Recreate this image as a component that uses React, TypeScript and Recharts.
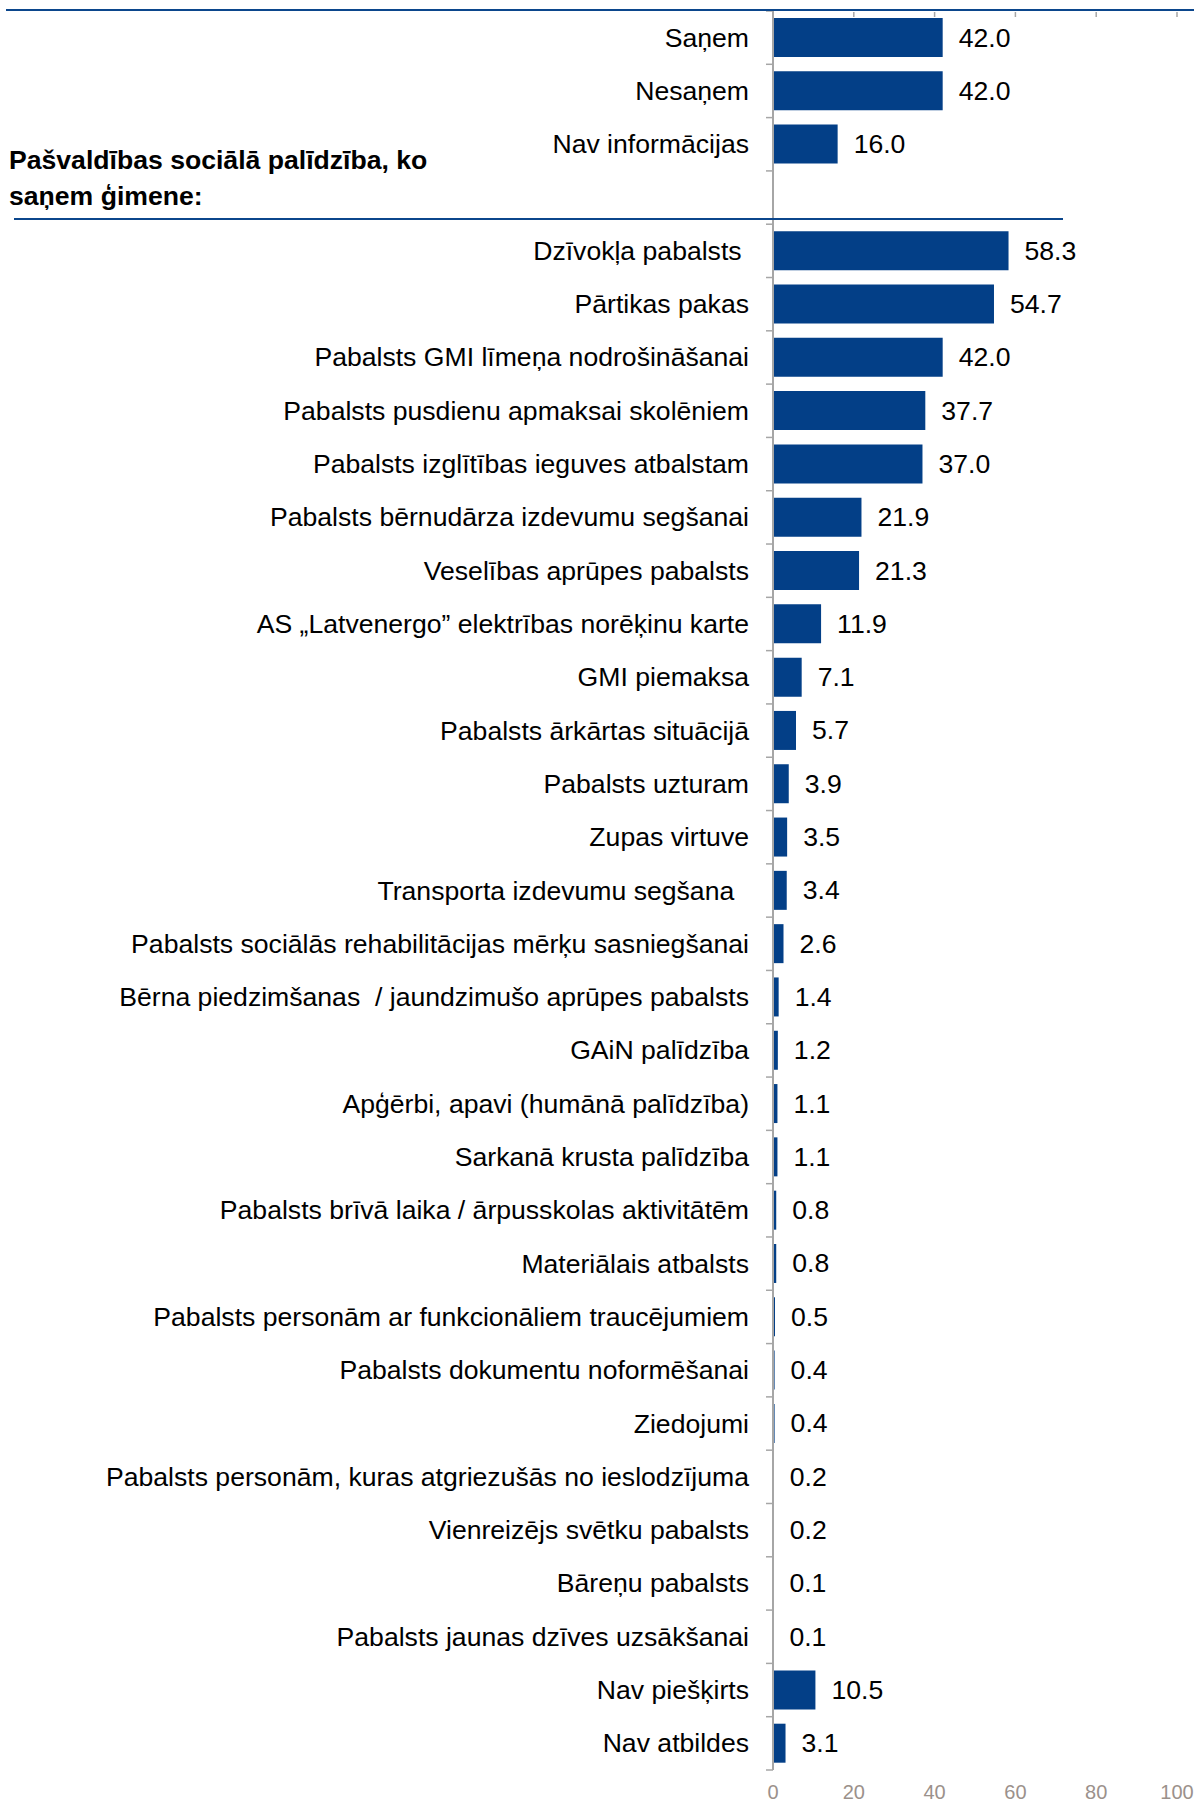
import { Bar, BarChart, LabelList, XAxis, YAxis } from 'recharts'

const categories = [
  'Saņem',
  'Nesaņem',
  'Nav informācijas',
  '',
  'Dzīvokļa pabalsts\u00a0',
  'Pārtikas pakas',
  'Pabalsts GMI līmeņa nodrošināšanai',
  'Pabalsts pusdienu apmaksai skolēniem',
  'Pabalsts izglītības ieguves atbalstam',
  'Pabalsts bērnudārza izdevumu segšanai',
  'Veselības aprūpes pabalsts',
  'AS „Latvenergo” elektrības norēķinu karte',
  'GMI piemaksa',
  'Pabalsts ārkārtas situācijā',
  'Pabalsts uzturam',
  'Zupas virtuve',
  'Transporta izdevumu segšana\u00a0\u00a0',
  'Pabalsts sociālās rehabilitācijas mērķu sasniegšanai',
  'Bērna piedzimšanas\u00a0 / jaundzimušo aprūpes pabalsts',
  'GAiN palīdzība',
  'Apģērbi, apavi (humānā palīdzība)',
  'Sarkanā krusta palīdzība',
  'Pabalsts brīvā laika / ārpusskolas aktivitātēm',
  'Materiālais atbalsts',
  'Pabalsts personām ar funkcionāliem traucējumiem',
  'Pabalsts dokumentu noformēšanai',
  'Ziedojumi',
  'Pabalsts personām, kuras atgriezušās no ieslodzījuma',
  'Vienreizējs svētku pabalsts',
  'Bāreņu pabalsts',
  'Pabalsts jaunas dzīves uzsākšanai',
  'Nav piešķirts',
  'Nav atbildes',
]

const shares: (number | null)[] = [
  42.0, 42.0, 16.0, null,
  58.3, 54.7, 42.0, 37.7, 37.0, 21.9, 21.3, 11.9, 7.1, 5.7, 3.9, 3.5, 3.4, 2.6,
  1.4, 1.2, 1.1, 1.1, 0.8, 0.8, 0.5, 0.4, 0.4, 0.2, 0.2, 0.1, 0.1, 10.5, 3.1,
]

const xTicks = [0, 20, 40, 60, 80, 100]

const W = 1194
const H = 1803
const TOP = 11
const X_AXIS_H = 33
const Y_AXIS_W = 773
const TICK_SIZE = 8
const TICK_MARGIN = 16
const HALF_BAND = (H - TOP - X_AXIS_H) / categories.length / 2
const FONT = '"Liberation Sans", Arial, Helvetica, sans-serif'
const FS = 26.6
const BLUE = '#033f87'
const LINE_BLUE = '#0b468c'
const GREY = '#a6a6a6'

const data = categories.map((name, i) => ({ name, value: shares[i] }))

// value ticks: grey label below the plot, small mark hanging from the top edge
function ValueTick({ x, y, payload }: any) {
  return (
    <g>
      <line x1={x} x2={x} y1={TOP + 1} y2={TOP + 6} stroke={GREY} strokeWidth={1.5} />
      <text x={x} y={y} dy="0.71em" textAnchor="middle" fontSize={20} fill="#9b918b" fontFamily={FONT}>
        {payload.value}
      </text>
    </g>
  )
}

function CategoryTick({ x, y, payload, index }: any) {
  const axisX = x + TICK_SIZE + TICK_MARGIN
  const last = index === categories.length - 1
  return (
    <g>
      <line x1={axisX - 7} x2={axisX} y1={y - HALF_BAND} y2={y - HALF_BAND} stroke={GREY} strokeWidth={1.5} />
      {last && (
        <line x1={axisX - 7} x2={axisX} y1={y + HALF_BAND} y2={y + HALF_BAND} stroke={GREY} strokeWidth={1.5} />
      )}
      <text x={x} y={y} textAnchor="end" dominantBaseline="central" fontSize={FS} fill="#000" fontFamily={FONT}>
        {payload.value}
      </text>
    </g>
  )
}

function ValueLabel({ x, y, width, height, value }: any) {
  if (value == null) return null
  return (
    <text
      x={x + width + 16}
      y={y + height / 2}
      dominantBaseline="central"
      fontSize={FS}
      fill="#000"
      fontFamily={FONT}
    >
      {Number(value).toFixed(1)}
    </text>
  )
}

export default function App() {
  return (
    <div style={{ position: 'absolute', left: 0, top: 0, width: W, height: H, background: '#fff', fontFamily: FONT }}>
      <BarChart
        width={W}
        height={H}
        data={data}
        layout="vertical"
        margin={{ top: TOP, right: 17, bottom: 0, left: 0 }}
      >
        <XAxis
          type="number"
          domain={[0, 100]}
          ticks={xTicks}
          height={X_AXIS_H}
          axisLine={false}
          tickLine={false}
          tickSize={6}
          tickMargin={9}
          tick={<ValueTick />}
        />
        <YAxis
          type="category"
          dataKey="name"
          width={Y_AXIS_W}
          interval={0}
          tickSize={TICK_SIZE}
          tickMargin={TICK_MARGIN}
          tickLine={false}
          axisLine={{ stroke: GREY, strokeWidth: 2 }}
          tick={<CategoryTick />}
        />
        <Bar dataKey="value" fill={BLUE} barSize={39} isAnimationActive={false}>
          <LabelList dataKey="value" content={<ValueLabel />} />
        </Bar>
      </BarChart>

      <div style={{ position: 'absolute', left: 6, top: 9, width: W - 6, height: 2, background: LINE_BLUE }} />
      <div
        style={{
          position: 'absolute',
          left: 9,
          top: 142,
          fontSize: FS,
          lineHeight: '36px',
          fontWeight: 'bold',
          color: '#000',
          whiteSpace: 'nowrap',
        }}
      >
        Pašvaldības sociālā palīdzība, ko
        <br />
        saņem ģimene:
      </div>
      <div style={{ position: 'absolute', left: 14, top: 218, width: 1049, height: 2, background: LINE_BLUE }} />
    </div>
  )
}
